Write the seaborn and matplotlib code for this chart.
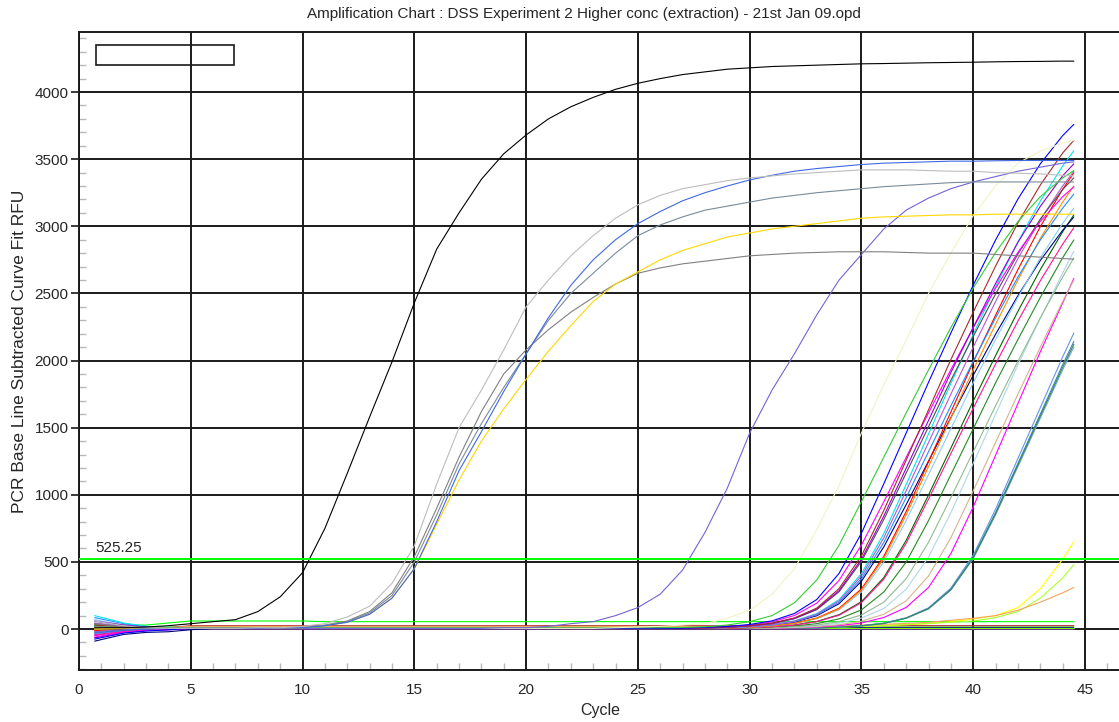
import matplotlib
matplotlib.use("Agg")
import matplotlib.pyplot as plt
from matplotlib.patches import Rectangle
from matplotlib.ticker import MultipleLocator
import numpy as np
import pandas as pd
import seaborn as sns

# ---------------- data ----------------
# plotted cycle positions: first point at 0.7, then 2..44, last at 44.5
cycles = [0.7] + list(range(2, 45)) + [44.5]

# chunks: [0.7,2..10] [11..20] [21..30] [31..40] [41..44,44.5]
black = [10, 10, 15, 25, 40, 55, 70, 130, 240, 420,
         750, 1160, 1580, 1990, 2430, 2830, 3100, 3350, 3540, 3680,
         3800, 3890, 3960, 4020, 4065, 4100, 4130, 4150, 4170, 4180,
         4190, 4195, 4200, 4205, 4210, 4212, 4215, 4218, 4220, 4222,
         4225, 4227, 4228, 4230, 4230]
silver_a = [60, 25, 10, 5, 5, 5, 5, 10, 10, 20,
            40, 90, 170, 340, 620, 1080, 1500, 1780, 2080, 2400,
            2600, 2780, 2930, 3060, 3160, 3230, 3280, 3310, 3340, 3360,
            3375, 3390, 3400, 3410, 3420, 3420, 3420, 3415, 3410, 3410,
            3400, 3395, 3390, 3380, 3375]
blue_a = [-30, -10, 0, 5, 5, 5, 5, 5, 10, 10,
          25, 50, 110, 230, 450, 800, 1180, 1470, 1770, 2050,
          2320, 2560, 2750, 2900, 3020, 3110, 3190, 3250, 3300, 3345,
          3380, 3410, 3430, 3445, 3460, 3470, 3475, 3480, 3485, 3485,
          3488, 3490, 3490, 3490, 3490]
slate_a = [20, 10, 5, 5, 5, 5, 5, 5, 10, 10,
           25, 55, 120, 250, 500, 850, 1230, 1530, 1800, 2050,
           2300, 2500, 2650, 2800, 2930, 3010, 3070, 3120, 3150, 3180,
           3210, 3230, 3250, 3265, 3280, 3295, 3305, 3315, 3325, 3330,
           3330, 3330, 3330, 3330, 3330]
gray_a = [40, 15, 5, 5, 5, 5, 5, 5, 10, 10,
          30, 60, 130, 270, 540, 900, 1280, 1620, 1900, 2080,
          2230, 2360, 2470, 2570, 2650, 2690, 2720, 2740, 2760, 2780,
          2790, 2800, 2805, 2810, 2810, 2810, 2805, 2800, 2800, 2800,
          2790, 2780, 2770, 2760, 2755]
gold_a = [0, 5, 5, 5, 5, 5, 5, 5, 10, 10,
          25, 50, 110, 230, 450, 780, 1110, 1400, 1640, 1860,
          2070, 2260, 2440, 2570, 2660, 2750, 2820, 2870, 2920, 2950,
          2980, 3000, 3020, 3040, 3060, 3070, 3075, 3080, 3085, 3085,
          3090, 3090, 3090, 3090, 3090]
slateblue_b = [-20, -5, 0, 5, 5, 5, 5, 5, 5, 5,
               5, 5, 5, 5, 5, 5, 5, 5, 10, 10,
               20, 40, 55, 100, 160, 260, 440, 720, 1050, 1460,
               1780, 2050, 2340, 2600, 2790, 2980, 3120, 3210, 3280, 3330,
               3370, 3410, 3440, 3470, 3480]
paleyellow_c = [10, 5, 5, 5, 5, 5, 5, 5, 5, 5,
                5, 5, 5, 5, 5, 5, 5, 5, 5, 5,
                5, 5, 5, 10, 15, 20, 30, 40, 80, 140,
                260, 450, 740, 1070, 1460, 1820, 2150, 2500, 2800, 3080,
                3300, 3470, 3560, 3620, 3640]

limegreen_d = [20, 10, 10, 10, 10, 10, 10, 10, 10, 10,
               10, 10, 10, 10, 10, 10, 10, 10, 10, 10,
               10, 10, 10, 10, 10, 10, 12, 17, 30, 55,
               100, 195, 365, 625, 950, 1280, 1610, 1930, 2245, 2540,
               2805, 3035, 3220, 3360, 3415]
blue_d = [-75, -30, -15, -5, 5, 5, 5, 5, 5, 5,
          5, 5, 5, 5, 5, 5, 5, 5, 5, 5,
          5, 5, 5, 5, 5, 5, 6, 12, 19, 34,
          61, 116, 220, 415, 714, 1082, 1460, 1838, 2205, 2562,
          2898, 3203, 3465, 3675, 3759]
brown_d = [30, 15, 10, 5, 5, 5, 5, 5, 5, 5,
           5, 5, 5, 5, 5, 5, 5, 5, 5, 5,
           5, 5, 5, 5, 5, 5, 5, 8, 15, 25,
           44, 83, 156, 302, 546, 884, 1258, 1633, 2007, 2361,
           2704, 3026, 3307, 3546, 3640]
violet_d = [60, 30, 15, 10, 10, 10, 10, 10, 10, 10,
            10, 10, 10, 10, 10, 10, 10, 10, 10, 10,
            10, 10, 10, 10, 10, 10, 10, 10, 14, 24,
            42, 79, 149, 287, 520, 842, 1198, 1554, 1911, 2247,
            2574, 2881, 3148, 3376, 3465]
magenta_d = [-60, -25, -10, 0, 5, 5, 5, 5, 5, 5,
             5, 5, 5, 5, 5, 5, 5, 5, 5, 5,
             5, 5, 5, 5, 5, 5, 6, 10, 17, 29,
             53, 101, 193, 363, 626, 948, 1279, 1610, 1932, 2245,
             2539, 2806, 3036, 3220, 3294]
darkgray_d = [0, 0, 5, 5, 5, 5, 5, 5, 5, 5,
              5, 5, 5, 5, 5, 5, 5, 5, 5, 5,
              5, 5, 5, 5, 5, 5, 5, 8, 13, 24,
              40, 77, 144, 278, 504, 816, 1162, 1507, 1853, 2179,
              2496, 2794, 3053, 3274, 3360]
orchid_d = [45, 20, 10, 5, 5, 5, 5, 5, 5, 5,
            5, 5, 5, 5, 5, 5, 5, 5, 5, 5,
            5, 5, 5, 5, 5, 5, 5, 6, 11, 18,
            32, 58, 110, 210, 395, 680, 1030, 1390, 1750, 2100,
            2440, 2760, 3050, 3300, 3410]
cyan_d = [100, 45, 20, 10, 10, 10, 10, 10, 10, 10,
          10, 10, 10, 10, 10, 10, 10, 10, 10, 10,
          10, 10, 10, 10, 10, 10, 10, 10, 11, 19,
          33, 61, 115, 219, 413, 711, 1076, 1453, 1829, 2195,
          2550, 2884, 3187, 3449, 3563]
dodger_d = [85, 40, 20, 10, 10, 10, 10, 10, 10, 10,
            10, 10, 10, 10, 10, 10, 10, 10, 10, 10,
            10, 10, 10, 10, 10, 10, 10, 10, 10, 17,
            30, 55, 105, 200, 375, 646, 979, 1321, 1663, 1995,
            2318, 2622, 2898, 3135, 3240]
orange_d = [10, 5, 5, 5, 5, 5, 5, 5, 5, 5,
            5, 5, 5, 5, 5, 5, 5, 5, 5, 5,
            5, 5, 5, 5, 5, 5, 5, 5, 8, 14,
            24, 42, 80, 150, 290, 525, 850, 1210, 1570, 1930,
            2270, 2600, 2910, 3180, 3300]
red_d = [-10, -5, 0, 0, 5, 5, 5, 5, 5, 5,
         5, 5, 5, 5, 5, 5, 5, 5, 5, 5,
         5, 5, 5, 5, 5, 5, 5, 5, 8, 14,
         25, 43, 82, 155, 299, 541, 876, 1246, 1617, 1988,
         2338, 2678, 2997, 3275, 3399]
skyblue_d = [70, 30, 15, 10, 10, 10, 10, 10, 10, 10,
             10, 10, 10, 10, 10, 10, 10, 10, 10, 10,
             10, 10, 10, 10, 10, 10, 10, 10, 10, 13,
             23, 40, 76, 143, 276, 499, 808, 1150, 1492, 1834,
             2157, 2470, 2765, 3021, 3135]
navy_d = [-90, -40, -25, -20, -5, 5, 5, 5, 5, 5,
          5, 5, 5, 5, 5, 5, 5, 5, 5, 5,
          5, 5, 5, 5, 5, 5, 5, 5, 10, 16,
          29, 52, 99, 189, 356, 612, 927, 1251, 1575, 1890,
          2196, 2484, 2745, 2970, 3069]
deeppink_d = [-45, -20, -10, 0, 5, 5, 5, 5, 5, 5,
              5, 5, 5, 5, 5, 5, 5, 5, 5, 5,
              5, 5, 5, 5, 5, 5, 5, 5, 6, 10,
              17, 30, 55, 103, 197, 371, 639, 968, 1307, 1645,
              1974, 2294, 2594, 2867, 2989]
darkgreen_d = [40, 20, 10, 5, 5, 5, 5, 5, 5, 5,
               5, 5, 5, 5, 5, 5, 5, 5, 5, 5,
               5, 5, 5, 5, 5, 5, 5, 5, 6, 11,
               17, 31, 56, 107, 204, 383, 660, 999, 1348, 1698,
               2037, 2367, 2677, 2959, 3085]
seagreen_e = [15, 10, 5, 5, 5, 5, 5, 5, 5, 5,
              5, 5, 5, 5, 5, 5, 5, 5, 5, 5,
              5, 5, 5, 5, 5, 5, 5, 5, 5, 6,
              10, 17, 30, 55, 105, 200, 375, 646, 979, 1321,
              1663, 1995, 2318, 2622, 2765]
forest_e = [25, 10, 5, 5, 5, 5, 5, 5, 5, 5,
            5, 5, 5, 5, 5, 5, 5, 5, 5, 5,
            5, 5, 5, 5, 5, 5, 5, 5, 5, 8,
            13, 23, 40, 76, 143, 276, 499, 808, 1150, 1492,
            1834, 2157, 2470, 2765, 2898]
lightblue_e = [55, 25, 15, 10, 10, 10, 10, 10, 10, 10,
               10, 10, 10, 10, 10, 10, 10, 10, 10, 10,
               10, 10, 10, 10, 10, 10, 10, 10, 10, 10,
               10, 14, 24, 43, 82, 153, 296, 536, 867, 1234,
               1601, 1969, 2315, 2652, 2815]
tan_e = [-15, -5, 0, 5, 5, 5, 5, 5, 5, 5,
         5, 5, 5, 5, 5, 5, 5, 5, 5, 5,
         5, 5, 5, 5, 5, 5, 5, 5, 5, 5,
         6, 11, 18, 32, 58, 110, 210, 395, 680, 1030,
         1390, 1750, 2100, 2440, 2600]
magenta_e = [-50, -20, -10, -5, 5, 5, 5, 5, 5, 5,
             5, 5, 5, 5, 5, 5, 5, 5, 5, 5,
             5, 5, 5, 5, 5, 5, 5, 5, 5, 5,
             5, 9, 15, 26, 45, 86, 161, 310, 562, 910,
             1295, 1680, 2065, 2429, 2611]
cornflower_f = [-35, -15, -5, 0, 5, 5, 5, 5, 5, 5,
                5, 5, 5, 5, 5, 5, 5, 5, 5, 5,
                5, 5, 5, 5, 5, 5, 5, 5, 5, 5,
                5, 5, 8, 15, 25, 44, 84, 158, 305, 551,
                893, 1271, 1649, 2027, 2205]
steel_f = [-25, -10, -5, 0, 5, 5, 5, 5, 5, 5,
           5, 5, 5, 5, 5, 5, 5, 5, 5, 5,
           5, 5, 5, 5, 5, 5, 5, 5, 5, 5,
           5, 5, 8, 14, 24, 43, 82, 153, 296, 536,
           867, 1234, 1601, 1969, 2142]
lsteel_f = [35, 15, 10, 5, 5, 5, 5, 5, 5, 5,
            5, 5, 5, 5, 5, 5, 5, 5, 5, 5,
            5, 5, 5, 5, 5, 5, 5, 5, 5, 5,
            5, 5, 8, 14, 24, 42, 80, 150, 290, 525,
            850, 1210, 1570, 1930, 2100]
sgreen_f = [20, 10, 5, 5, 5, 5, 5, 5, 5, 5,
            5, 5, 5, 5, 5, 5, 5, 5, 5, 5,
            5, 5, 5, 5, 5, 5, 5, 5, 5, 5,
            5, 5, 8, 14, 24, 42, 81, 152, 293, 530,
            859, 1222, 1586, 1949, 2121]
yellow_g = [-20, -10, -5, 0, 10, 10, 10, 10, 10, 10,
            10, 10, 10, 10, 10, 10, 10, 10, 10, 10,
            10, 10, 10, 10, 10, 10, 10, 10, 10, 10,
            10, 10, 12, 15, 20, 25, 32, 40, 55, 75,
            100, 160, 300, 520, 650]
ygreen_g = [15, 10, 10, 10, 15, 15, 15, 15, 15, 15,
            15, 15, 15, 15, 15, 15, 15, 15, 15, 15,
            15, 15, 15, 15, 15, 15, 15, 15, 15, 15,
            15, 15, 15, 18, 22, 28, 35, 42, 50, 60,
            85, 130, 230, 380, 480]
sandy_g = [-5, 0, 5, 10, 20, 20, 20, 20, 20, 20,
           20, 20, 20, 20, 20, 20, 20, 20, 20, 20,
           20, 20, 20, 20, 20, 20, 20, 20, 20, 20,
           20, 20, 22, 25, 30, 35, 42, 50, 65, 80,
           100, 140, 200, 270, 310]
lime_h = [30, 30, 30, 45, 60, 60, 60, 60, 60, 60,
          55, 55, 55, 55, 55, 55, 55, 55, 55, 55,
          55, 55, 55, 55, 55, 55, 55, 55, 55, 55,
          55, 55, 55, 55, 55, 55, 55, 55, 55, 55,
          55, 55, 55, 55, 55]
lime2_h = [25, 15, 15, 15, 15, 15, 15, 15, 15, 15,
           15, 15, 15, 15, 15, 15, 15, 15, 15, 15,
           15, 15, 15, 15, 15, 15, 15, 15, 15, 15,
           15, 15, 15, 15, 15, 15, 15, 15, 15, 15,
           15, 15, 15, 15, 15]
orchid_h = [-40, -15, -5, 0, 0, 0, 0, 0, 0, 0,
            0, 0, 0, 0, 0, 0, 0, 0, 0, 0,
            0, 0, 0, 0, 0, 0, 0, 0, 0, 0,
            0, 0, 0, 0, 0, 0, 0, 0, 0, 0,
            0, 0, 0, 0, 0]
darkblue_h = [-65, -25, -10, -5, 0, 5, 10, 10, 10, 10,
              10, 10, 10, 10, 10, 10, 10, 10, 10, 10,
              10, 10, 10, 10, 10, 10, 10, 10, 10, 10,
              10, 10, 10, 10, 10, 10, 10, 10, 10, 10,
              10, 10, 10, 10, 10]
lawn_h = [5, 5, 5, 5, 5, 5, 5, 5, 5, 5,
          5, 5, 5, 5, 5, 5, 5, 5, 5, 5,
          5, 5, 5, 5, 5, 5, 5, 5, 5, 5,
          5, 5, 5, 5, 5, 5, 5, 5, 5, 5,
          5, 5, 5, 5, 5]
brick_h = [0, 5, 5, 10, 25, 25, 25, 25, 25, 25,
           25, 25, 25, 25, 25, 25, 25, 25, 25, 25,
           25, 25, 25, 25, 25, 25, 25, 25, 25, 25,
           25, 25, 25, 25, 25, 25, 25, 25, 25, 25,
           25, 25, 25, 25, 25]

threshold = 525.25
title = "Amplification Chart : DSS Experiment 2 Higher conc (extraction) - 21st Jan 09.opd"

# ---------------- styling ----------------
wells = [
    ("lime_h", lime_h, "#00ff00"), ("lime2_h", lime2_h, "#00ff00"),
    ("orchid_h", orchid_h, "#9932cc"), ("darkblue_h", darkblue_h, "#00008b"),
    ("lawn_h", lawn_h, "#7cfc00"), ("brick_h", brick_h, "#b22222"),
    ("yellow_g", yellow_g, "#ffff00"), ("ygreen_g", ygreen_g, "#adff2f"),
    ("sandy_g", sandy_g, "#f4a460"),
    ("cornflower_f", cornflower_f, "#6495ed"), ("steel_f", steel_f, "#4682b4"),
    ("lsteel_f", lsteel_f, "#7aa7e0"), ("sgreen_f", sgreen_f, "#2e8b57"),
    ("magenta_e", magenta_e, "#ff00ff"), ("tan_e", tan_e, "#d2b48c"),
    ("lightblue_e", lightblue_e, "#add8e6"), ("forest_e", forest_e, "#228b22"),
    ("seagreen_e", seagreen_e, "#8fbc8f"),
    ("darkgreen_d", darkgreen_d, "#006400"), ("deeppink_d", deeppink_d, "#ff1493"),
    ("navy_d", navy_d, "#000080"), ("skyblue_d", skyblue_d, "#87cefa"),
    ("red_d", red_d, "#ff0000"), ("orange_d", orange_d, "#ff8c00"),
    ("dodger_d", dodger_d, "#1e90ff"), ("cyan_d", cyan_d, "#00e5ee"),
    ("orchid_d", orchid_d, "#ba55d3"), ("darkgray_d", darkgray_d, "#505050"),
    ("magenta_d", magenta_d, "#ff00ff"), ("violet_d", violet_d, "#9400d3"),
    ("brown_d", brown_d, "#a52a2a"), ("blue_d", blue_d, "#0000ff"),
    ("limegreen_d", limegreen_d, "#33cc33"),
    ("paleyellow_c", paleyellow_c, "#f3f3c4"),
    ("slateblue_b", slateblue_b, "#7363d6"),
    ("gray_a", gray_a, "#808080"), ("gold_a", gold_a, "#ffd700"),
    ("slate_a", slate_a, "#7a8b9c"), ("blue_a", blue_a, "#4169e1"),
    ("silver_a", silver_a, "#bdbdbd"), ("black", black, "#000000"),
]

rows = []
for name, vals, _ in wells:
    assert len(vals) == len(cycles), name
    for c, v in zip(cycles, vals):
        rows.append((name, c, v))
df = pd.DataFrame(rows, columns=["well", "cycle", "rfu"])
palette = {name: col for name, _, col in wells}
order = [name for name, _, _ in wells]

sns.set_style("white")
plt.rcParams["font.family"] = ["Liberation Sans", "DejaVu Sans"]

W, H = 1119, 722
fig = plt.figure(figsize=(W / 100, H / 100), dpi=100)
ax = fig.add_axes([79 / W, 52 / H, 1040 / W, 638 / H])

sns.lineplot(data=df, x="cycle", y="rfu", hue="well", hue_order=order,
             palette=palette, legend=False, estimator=None, sort=False,
             linewidth=0.8, ax=ax)

ax.set_xlim(0, 46.52)
ax.set_ylim(-305, 4447)
ax.set_xticks(range(0, 46, 5))
ax.set_yticks(range(0, 4001, 500))
ax.xaxis.set_minor_locator(MultipleLocator(1))
ax.yaxis.set_minor_locator(MultipleLocator(100))
ax.grid(True, which="major", color="#1a1a1a", linewidth=1.4)
ax.set_axisbelow(True)

ax.tick_params(which="both", bottom=True, left=True, top=False, right=False)
ax.tick_params(which="minor", direction="in", length=5, width=1.0, color="#b8b8b8")
ax.tick_params(axis="y", which="major", direction="out", length=6, width=1.2,
               color="#1a1a1a", pad=1.5, labelsize=11)
ax.tick_params(axis="x", which="major", length=0, pad=9, labelsize=11)

for s in ["left", "bottom", "top"]:
    ax.spines[s].set_color("#1a1a1a")
    ax.spines[s].set_linewidth(1.4)
ax.spines["right"].set_visible(False)

ax.set_xlabel("")
ax.set_ylabel("")

ax.axhline(threshold, color="#00ff00", linewidth=1.4, zorder=3)
ax.text(0.75, 574, f"{threshold:.2f}", fontsize=11, ha="left", va="baseline")

ax.add_patch(Rectangle((17 / 1040, (670 - 65) / 638), 138 / 1040, 20 / 638,
                       transform=ax.transAxes, fill=False, edgecolor="#1a1a1a",
                       linewidth=1.2, zorder=5))

fig.text(584 / W, 1 - 14 / H, title, ha="center", va="center", fontsize=11)
fig.text(600 / W, 1 - 711 / H, "Cycle", ha="center", va="center", fontsize=11.5)
fig.text(20 / W, 1 - 351 / H, "PCR Base Line Subtracted Curve Fit RFU",
         rotation=90, ha="center", va="center", fontsize=12.5)

fig.savefig("out.png", dpi=100)
